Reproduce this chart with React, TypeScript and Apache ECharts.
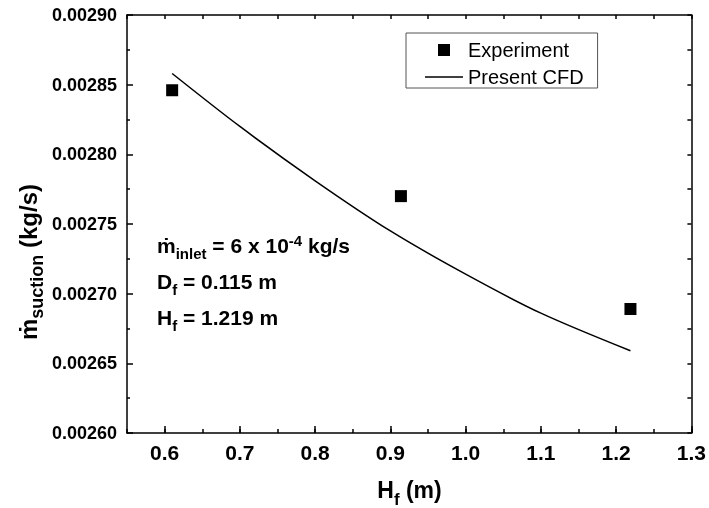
import React, { useEffect, useRef } from 'react';
import * as echarts from 'echarts';

const experimentH = [0.61, 0.914, 1.219];
const experimentM = [0.002846, 0.00277, 0.002689];
const cfdH = [0.61, 0.7, 0.8, 0.9, 1.0, 1.1, 1.219];
const cfdM = [0.002858, 0.00282, 0.002781, 0.002745, 0.002714, 0.002686, 0.002659];
const xMajorTicks = [0.6, 0.7, 0.8, 0.9, 1.0, 1.1, 1.2, 1.3];
const seriesNames = ['Experiment', 'Present CFD'];

const FONT = '"Liberation Sans", Arial, sans-serif';

export default function App() {
  const ref = useRef<HTMLDivElement>(null);
  useEffect(() => {
    document.body.style.margin = '0';
    const chart = echarts.init(ref.current!, undefined, { renderer: 'svg' });
    const axisLine = { show: true, lineStyle: { color: '#000', width: 1.5 } };
    const main = { fontSize: 21, fontWeight: 'bold', fontFamily: FONT, color: '#000' };
    const sub = { fontSize: 15, fontWeight: 'bold', fontFamily: FONT, color: '#000', padding: [16, 0, 0, 0] };
    const sup = { fontSize: 15, fontWeight: 'bold', fontFamily: FONT, color: '#000', padding: [0, 0, 9, 0] };
    const tMain = { fontSize: 23, fontWeight: 'bold', fontFamily: FONT, color: '#000' };
    const tSub = { fontSize: 17, fontWeight: 'bold', fontFamily: FONT, color: '#000', padding: [18, 0, 0, 0] };
    const yMain = { fontSize: 24, fontWeight: 'bold', fontFamily: FONT, color: '#000' };
    const ySub = { fontSize: 18, fontWeight: 'bold', fontFamily: FONT, color: '#000', padding: [18, 0, 0, 0] };
    chart.setOption({
      animation: false,
      grid: { left: 127, right: 17, top: 15, bottom: 75, containLabel: false },
      xAxis: [
        {
          type: 'value', position: 'bottom', min: 0.55, max: 1.3, interval: 0.05,
          axisLine, splitLine: { show: false },
          axisTick: { show: true, inside: true, length: 4, lineStyle: { color: '#000', width: 1.5 } },
          axisLabel: {
            margin: 9, fontSize: 21, fontWeight: 'bold', fontFamily: FONT, color: '#000',
            formatter: (v: number) => (Math.abs(Math.round(v * 10) - v * 10) < 1e-6 ? v.toFixed(1) : ''),
          },
        },
        {
          type: 'value', position: 'bottom', min: 0.55, max: 1.3,
          axisLine: { show: false }, splitLine: { show: false },
          axisTick: { show: true, inside: true, length: 7, customValues: xMajorTicks, lineStyle: { color: '#000', width: 1.5 } },
          axisLabel: { show: false },
        },
        {
          type: 'value', position: 'top', min: 0.55, max: 1.3, interval: 0.05,
          axisLine, splitLine: { show: false },
          axisTick: { show: true, inside: true, length: 4, lineStyle: { color: '#000', width: 1.5 } },
          axisLabel: { show: false },
        },
      ],
      yAxis: [
        {
          type: 'value', position: 'left', min: 0.0026, max: 0.0029, interval: 0.00005,
          axisLine, splitLine: { show: false },
          axisTick: { show: true, inside: true, length: 6, lineStyle: { color: '#000', width: 1.5 } },
          minorTick: { show: true, splitNumber: 2, length: 3, lineStyle: { color: '#000', width: 1.5 } },
          minorSplitLine: { show: false },
          axisLabel: {
            margin: 10, fontSize: 18, fontWeight: 'bold', fontFamily: FONT, color: '#000',
            formatter: (v: number) => v.toFixed(5),
          },
        },
        {
          type: 'value', position: 'right', min: 0.0026, max: 0.0029, interval: 0.000025,
          axisLine, splitLine: { show: false },
          axisTick: { show: true, inside: true, length: 4, lineStyle: { color: '#000', width: 1.5 } },
          axisLabel: { show: false },
        },
      ],
      legend: {
        orient: 'vertical', left: 406, top: 33,
        padding: [7, 14, 1, 19],
        itemWidth: 38, itemHeight: 12, itemGap: 7,
        borderColor: '#555', borderWidth: 1,
        symbolKeepAspect: true,
        textStyle: { fontSize: 20, fontFamily: FONT, color: '#000', lineHeight: 20 },
        data: [
          { name: seriesNames[0], icon: 'path://M0,0 L12,0 L12,12 L0,12 Z', itemStyle: { color: '#000', opacity: 1 } },
          { name: seriesNames[1], icon: 'path://M0,0 L38,0 L38,1.5 L0,1.5 Z', itemStyle: { color: '#000', opacity: 1 } },
        ],
      },
      graphic: [
        {
          type: 'text', left: 157, top: 233,
          style: {
            text: '{m|ṁ}{s|inlet}{m| = 6 x 10}{p|-4}{m| kg/s}',
            rich: { m: main, s: sub, p: sup },
          },
        },
        {
          type: 'text', left: 157, top: 271,
          style: { text: '{m|D}{s|f}{m| = 0.115 m}', rich: { m: main, s: sub } },
        },
        {
          type: 'text', left: 157, top: 307,
          style: { text: '{m|H}{s|f}{m| = 1.219 m}', rich: { m: main, s: sub } },
        },
        {
          type: 'text', x: 409.5, y: 490,
          style: {
            text: '{m|H}{s|f}{m| (m)}', rich: { m: tMain, s: tSub },
            align: 'center', verticalAlign: 'middle',
          },
        },
        {
          type: 'text', x: 28, y: 340, rotation: Math.PI / 2,
          style: {
            text: '{m|ṁ}{s|suction}{m| (kg/s)}', rich: { m: yMain, s: ySub },
            align: 'left', verticalAlign: 'middle',
          },
        },
      ],
      series: [
        {
          name: seriesNames[0], type: 'scatter', xAxisIndex: 0, yAxisIndex: 0,
          symbol: 'rect', symbolSize: 12, itemStyle: { color: '#000', opacity: 1 },
          data: experimentH.map((h, i) => [h, experimentM[i]]),
        },
        {
          name: seriesNames[1], type: 'line', xAxisIndex: 0, yAxisIndex: 0,
          symbol: 'none', smooth: 0.3, lineStyle: { color: '#000', width: 1.5 }, itemStyle: { color: '#000' },
          data: cfdH.map((h, i) => [h, cfdM[i]]),
        },
      ],
    });
    return () => chart.dispose();
  }, []);
  return <div ref={ref} style={{ position: 'fixed', left: 0, top: 0, width: 709, height: 508 }} />;
}
